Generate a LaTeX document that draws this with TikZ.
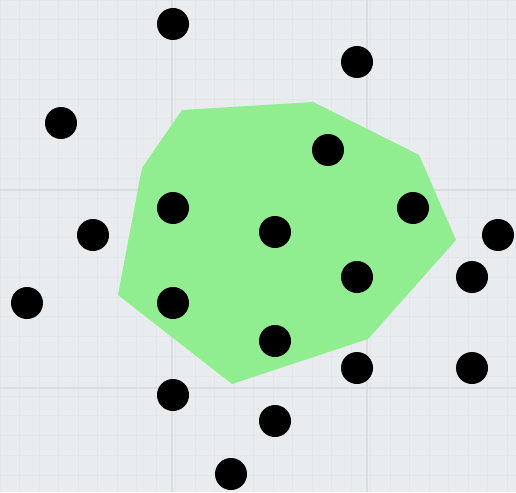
\documentclass[tikz,border=0pt]{standalone}
\usepackage{xcolor}
\usepackage{tikz}
\definecolor{PaperGray}{RGB}{233,236,239}
\definecolor{GridFaint}{RGB}{226,229,233}
\definecolor{GridMajor}{RGB}{215,222,226}
\definecolor{HullGreen}{RGB}{144,238,144}
\begin{document}
\begin{tikzpicture}[x=1pt, y=-1pt,
  pt/.style={circle, fill=black, inner sep=0pt, minimum size=32pt},
  hull/.style={fill=HullGreen, draw=none},
  minorgrid/.style={GridFaint, line width=0.8pt},
  majorgrid/.style={GridMajor, line width=1.6pt}]

% paper background with grid
\fill[PaperGray] (0,0) rectangle (516,492);
\useasboundingbox (0,0) rectangle (516,492);
\foreach \gx in {0,19.5,...,516} \draw[minorgrid] (\gx,0) -- (\gx,492);
\foreach \gy in {0,19.8,...,492} \draw[minorgrid] (0,\gy) -- (516,\gy);
\foreach \gx in {172,367} \draw[majorgrid] (\gx,0) -- (\gx,492);
\foreach \gy in {190,388} \draw[majorgrid] (0,\gy) -- (516,\gy);

% hull corners
\coordinate (h1) at (182,110);
\coordinate (h2) at (313,102);
\coordinate (h3) at (419,155);
\coordinate (h4) at (456,240);
\coordinate (h5) at (368,339);
\coordinate (h6) at (232,384);
\coordinate (h7) at (118,295);
\coordinate (h8) at (142,168);
\fill[hull] (h1) -- (h2) -- (h3) -- (h4) -- (h5) -- (h6) -- (h7) -- (h8) -- cycle;

% point set
\node[pt] (p1) at (173,24) {};
\node[pt] (p2) at (357,62) {};
\node[pt] (p3) at (61,123) {};
\node[pt] (p4) at (328,150) {};
\node[pt] (p5) at (173,208) {};
\node[pt] (p6) at (413,208) {};
\node[pt] (p7) at (93,235) {};
\node[pt] (p8) at (275,232) {};
\node[pt] (p9) at (498,235) {};
\node[pt] (p10) at (357,277) {};
\node[pt] (p11) at (472,277) {};
\node[pt] (p12) at (27,303) {};
\node[pt] (p13) at (173,303) {};
\node[pt] (p14) at (275,341) {};
\node[pt] (p15) at (357,368) {};
\node[pt] (p16) at (472,368) {};
\node[pt] (p17) at (173,395) {};
\node[pt] (p18) at (275,421) {};
\node[pt] (p19) at (231,474) {};
\end{tikzpicture}
\end{document}
